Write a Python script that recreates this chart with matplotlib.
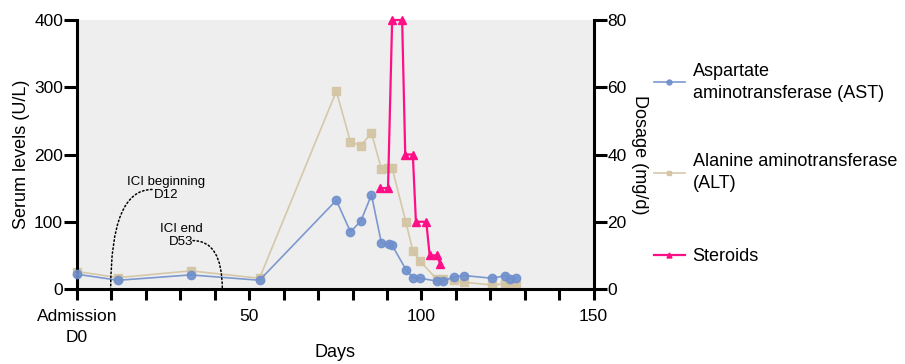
import matplotlib
matplotlib.use("Agg")
from matplotlib import pyplot as plt

plt.rcParams['font.family'] = ['Liberation Sans', 'DejaVu Sans']

# AST (U/L)
ast_days = [0, 12, 33, 53, 75.3, 79.4, 82.4, 85.5, 88.4, 90.5, 91.5, 95.5, 97.5, 99.5,
            104.4, 106.3, 109.4, 112.5, 120.5, 124.4, 125.6, 127.5]
ast_vals = [22, 13, 21, 13, 132, 85, 101, 140, 68, 67, 65, 29, 17, 16,
            12, 12, 18, 20, 16, 20, 15, 16]

# ALT (U/L)
alt_days = [0, 12, 33, 53, 75.3, 79.4, 82.4, 85.5, 88.4, 90.3, 91.5, 95.5, 97.5, 99.5,
            104.4, 106.3, 109.4, 112.5, 120.5, 124.4, 125.6, 127.5]
alt_vals = [26, 17, 27, 16, 294, 219, 213, 232, 178, 180, 180, 99, 57, 42,
            15, 15, 13, 10, 6, 8, 6, 6]

# steroids (mg/d)
ster_days = [88.1, 90.3, 91.5, 94.4, 95.3, 97.5, 98.4, 101.4, 102.4, 104.4, 105.5]
ster_vals = [30, 30, 80, 80, 40, 40, 20, 20, 10, 10, 7.5]

x_ticks = list(range(0, 151, 10))
x_labels = {0: 'Admission\nD0', 50: '50', 100: '100', 150: '150'}
left_ticks = [0, 100, 200, 300, 400]
right_ticks = [0, 20, 40, 60, 80]

c_ast = '#6f8fcc'
c_alt = '#d3c4a2'
c_ster = '#ff0f86'

fig = plt.figure(figsize=(9.05, 3.64), dpi=100)
ax = fig.add_axes([0.085, 0.206, 0.571, 0.739])
ax.set_facecolor('#eeeeee')
ax2 = ax.twinx()

l1, = ax.plot(ast_days, ast_vals, '-o', color=c_ast, lw=1.2, ms=6, alpha=0.9,
              clip_on=False, zorder=3)
l2, = ax.plot(alt_days, alt_vals, '-s', color=c_alt, lw=1.2, ms=6, alpha=0.9,
              clip_on=False, zorder=2)
l3, = ax2.plot(ster_days, ster_vals, '-^', color=c_ster, lw=1.6, ms=6,
               clip_on=False, zorder=4)

ax.set_xlim(0, 150)
ax.set_ylim(0, 400)
ax2.set_ylim(0, 80)
ax.set_xticks(x_ticks)
ax.set_xticklabels([x_labels.get(t, '') for t in x_ticks])
ax.set_yticks(left_ticks)
ax2.set_yticks(right_ticks)

for a in (ax, ax2):
    a.spines['top'].set_visible(False)
    for s in ('left', 'right', 'bottom'):
        a.spines[s].set_linewidth(2.2)
    a.tick_params(axis='y', width=2.2, length=9.5, labelsize=12.5, pad=0.5)
ax.tick_params(axis='x', width=2.2, length=8, labelsize=12.5, pad=6.5)
for t in ax.get_xticklabels():
    t.set_linespacing(1.45)
ax.spines['right'].set_visible(False)
ax2.spines['left'].set_visible(False)
ax2.spines['bottom'].set_visible(False)

ax.set_ylabel('Serum levels (U/L)', fontsize=13, labelpad=3)
ax2.set_ylabel('Dosage (mg/d)', fontsize=13, rotation=-90, va='center')
ax2.yaxis.set_label_coords(1.089, 0.5)
ax.set_xlabel('Days', fontsize=13)
ax.xaxis.set_label_coords(0.5, -0.205)

# ICI annotations
arc = dict(arrowstyle='-', linestyle=':', color='black', lw=1.1,
           connectionstyle='angle3,angleA=0,angleB=90', shrinkA=0, shrinkB=0)
ax.annotate('', xy=(9.8, 0), xytext=(21.8, 148), arrowprops=arc)
ax.annotate('', xy=(42.2, 0), xytext=(33.7, 72), arrowprops=arc)
ax.text(25.8, 150, 'ICI beginning\nD12', ha='center', va='center', fontsize=9.5,
        linespacing=1.1)
ax.text(30.3, 80, 'ICI end\nD53', ha='center', va='center', fontsize=9.5,
        linespacing=1.1)

leg_kw = dict(frameon=False, fontsize=13, handlelength=1.7, handletextpad=0.45,
              borderpad=0, markerscale=0.6)
leg = fig.legend([l1, l2],
                 ['Aspartate\naminotransferase (AST)', 'Alanine aminotransferase\n(ALT)'],
                 loc='upper left', bbox_to_anchor=(0.7125, 0.853),
                 labelspacing=2.85, **leg_kw)
for t in leg.get_texts():
    t.set_linespacing(1.4)
fig.legend([l3], ['Steroids'], loc='center left', bbox_to_anchor=(0.7125, 0.294),
           **leg_kw)

fig.savefig('out.png', dpi=100)
